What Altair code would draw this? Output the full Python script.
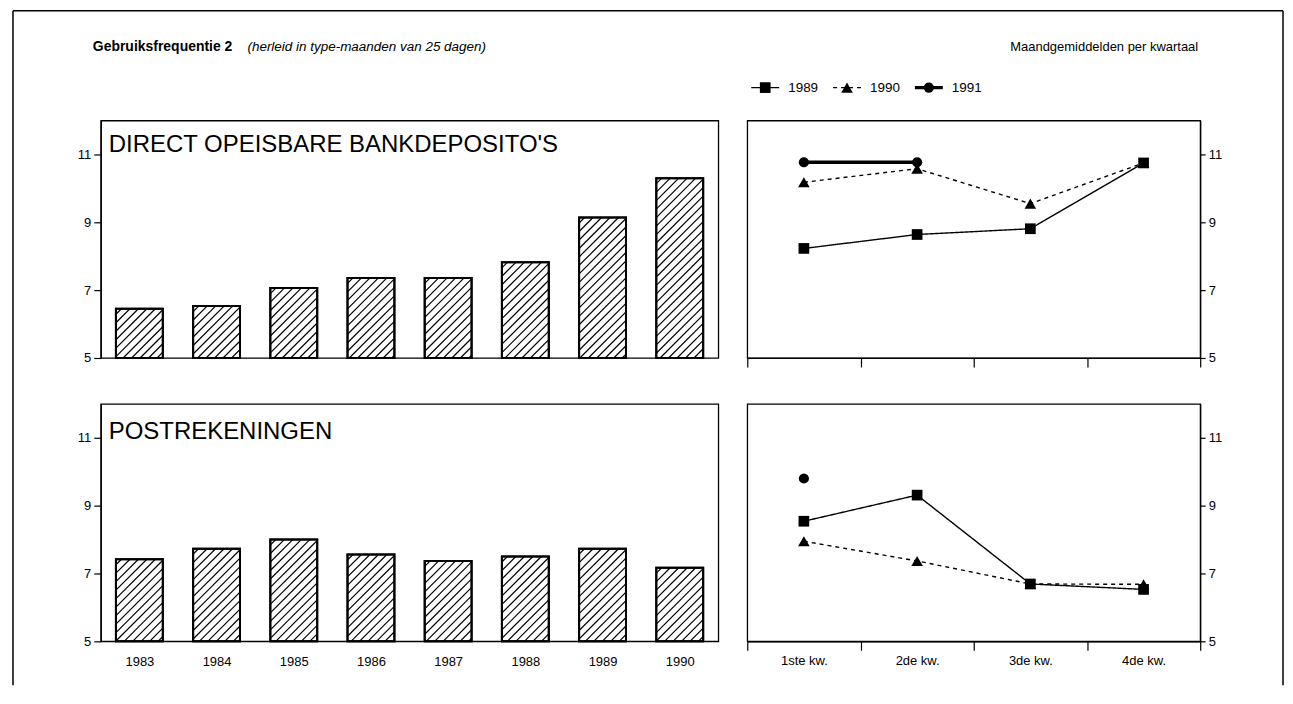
import altair as alt
import pandas as pd

FONT = "Liberation Sans"

# ---------------- data ----------------
years = [1983, 1984, 1985, 1986, 1987, 1988, 1989, 1990]
bank_deposits = [6.45, 6.53, 7.06, 7.36, 7.36, 7.82, 9.14, 10.3]
post_accounts = [7.42, 7.73, 8.0, 7.56, 7.37, 7.5, 7.73, 7.17]

quarters = ["1ste kw.", "2de kw.", "3de kw.", "4de kw."]
series_years = ["1989", "1990", "1991"]
bank_q_1989 = [8.23, 8.64, 8.81, 10.75]
bank_q_1990 = [10.18, 10.58, 9.55, 10.75]
bank_q_1991 = [10.77, 10.77, None, None]
post_q_1989 = [8.54, 9.31, 6.69, 6.53]
post_q_1990 = [7.95, 7.37, 6.69, 6.68]
post_q_1991 = [9.80, None, None, None]

title_main = "Gebruiksfrequentie 2"
title_sub = "(herleid in type-maanden van 25 dagen)"
title_right = "Maandgemiddelden per kwartaal"
label_top = "DIRECT OPEISBARE BANKDEPOSITO'S"
label_bottom = "POSTREKENINGEN"

# ---------------- layout constants ----------------
LW, RW, PH = 619, 454, 238
A = LW / 8.0          # px per year
B = PH / 7.0          # px per unit
BAR_PX = 47.0
HW = (BAR_PX / 2) / A
S = 8.5               # hatch spacing (px)

yscale = alt.Scale(domain=[5, 12], nice=False, zero=False)
xscale_bar = alt.Scale(domain=[1982.5, 1990.5], nice=False, zero=False)


def one_row():
    return alt.Data(values=[{"a": 1}])


def bar_panel(values, label, label_y, show_x):
    df = pd.DataFrame({"jaar": years, "waarde": values})
    if show_x:
        xaxis = alt.Axis(values=years, format="d", tickSize=0, labelPadding=14,
                         labelFontSize=13, domain=False, grid=False, title=None)
    else:
        xaxis = None
    yaxis = alt.Axis(values=[5, 7, 9, 11], tickSize=7, labelPadding=3, grid=False,
                     labelFontSize=13, title=None, domainWidth=1.3)
    base = alt.Chart(df).transform_calculate(
        x0=f"datum.jaar - {HW}"
    ).transform_calculate(
        x1=f"datum.jaar + {HW}"
    )
    bars = base.mark_rect(fill="white", stroke="black", strokeWidth=2).encode(
        x=alt.X("x0:Q", scale=xscale_bar, axis=xaxis, title=None),
        x2="x1:Q",
        y=alt.Y("waarde:Q", scale=yscale, axis=yaxis, title=None),
        y2=alt.datum(5),
    )
    hatch = (
        alt.Chart(df)
        .transform_calculate(hp=f"(datum.waarde - 5) * {B}")
        .transform_calculate(wp=f"{BAR_PX}")
        .transform_calculate(ks=f"sequence(1, ceil((datum.wp + datum.hp) / {S}) + 1)")
        .transform_flatten(["ks"], as_=["k"])
        .transform_calculate(c=f"-datum.hp + datum.k * {S} - 3")
        .transform_filter("datum.c < datum.wp && datum.c > -datum.hp")
        .transform_calculate(X0="max(0, datum.c)")
        .transform_calculate(X1="min(datum.wp, datum.hp + datum.c)")
        .transform_calculate(hx=f"datum.jaar - {HW} + datum.X0 / {A}")
        .transform_calculate(hy=f"5 + (datum.X0 - datum.c) / {B}")
        .transform_calculate(hx2=f"datum.jaar - {HW} + datum.X1 / {A}")
        .transform_calculate(hy2=f"5 + (datum.X1 - datum.c) / {B}")
        .mark_rule(color="black", strokeWidth=1.2)
        .encode(
            x=alt.X("hx:Q", scale=xscale_bar, axis=xaxis, title=None),
            x2="hx2:Q",
            y=alt.Y("hy:Q", scale=yscale, axis=yaxis, title=None),
            y2="hy2:Q",
        )
    )
    outline = base.mark_rect(fill=None, stroke="black", strokeWidth=2).encode(
        x=alt.X("x0:Q", scale=xscale_bar, axis=xaxis, title=None),
        x2="x1:Q",
        y=alt.Y("waarde:Q", scale=yscale, axis=yaxis, title=None),
        y2=alt.datum(5),
    )
    txt = alt.Chart(one_row()).mark_text(
        align="left", baseline="middle", fontSize=24, font=FONT, color="black"
    ).encode(x=alt.value(8), y=alt.value(label_y), text=alt.value(label))
    return bars, hatch, outline, txt


def quarter_df(s89, s90, s91):
    rows = []
    for yr, ser in zip(series_years, [s89, s90, s91]):
        for i, v in enumerate(ser):
            if v is not None:
                rows.append({"q": i + 0.5, "jaar": yr, "waarde": v})
    return pd.DataFrame(rows)


dash_enc = alt.StrokeDash("jaar:N", scale=alt.Scale(type="ordinal", domain=series_years,
                          range=[[1, 0], [4, 4], [1, 0]]), legend=None)
width_enc = alt.StrokeWidth("jaar:N", scale=alt.Scale(type="ordinal", domain=series_years,
                            range=[1.4, 1.4, 3.4]), legend=None)
shape_enc = alt.Shape("jaar:N", scale=alt.Scale(type="ordinal", domain=series_years,
                      range=["square", "triangle-up", "circle"]), legend=None)
size_enc = alt.Size("jaar:N", scale=alt.Scale(type="ordinal", domain=series_years,
                    range=[115, 135, 105]), legend=None)

label_expr = " : ".join(
    [f"datum.value == {i + 0.5} ? '{q}'" for i, q in enumerate(quarters)]
) + " : ''"


def line_panel(s89, s90, s91, show_x):
    df = quarter_df(s89, s90, s91)
    xaxis = alt.Axis(
        values=[i * 0.5 for i in range(9)],
        tickSize=9,
        labelPadding=4,
        labelFontSize=13,
        labelExpr=label_expr if show_x else "''",
        labels=show_x,
        grid=False,
        tickOpacity={"condition": {"test": "datum.value % 1 === 0", "value": 1}, "value": 0},
        domainWidth=1.3,
        title=None,
    )
    yaxis = alt.Axis(orient="right", values=[5, 7, 9, 11], tickSize=5, grid=False,
                     labelPadding=3, labelFontSize=13, title=None, domainWidth=1.3)
    x = alt.X("q:Q", scale=alt.Scale(domain=[0, 4], nice=False, zero=False),
              axis=xaxis, title=None)
    y = alt.Y("waarde:Q", scale=yscale, axis=yaxis, title=None)
    lines = alt.Chart(df).mark_line(color="black").encode(
        x=x, y=y, strokeDash=dash_enc, strokeWidth=width_enc, detail="jaar:N"
    )
    pts = alt.Chart(df).mark_point(filled=True, color="black", opacity=1).encode(
        x=x, y=y, shape=shape_enc, size=size_enc
    )
    return alt.layer(lines, pts)


# ---------------- panels ----------------
tl_bars, tl_hatch, tl_out, tl_txt = bar_panel(bank_deposits, label_top, 25, False)
bl_bars, bl_hatch, bl_out, bl_txt = bar_panel(post_accounts, label_bottom, 28, True)

# header texts & outer frame (annotations placed relative to top-left panel)
h1 = alt.Chart(one_row()).mark_text(align="left", baseline="middle", fontSize=14,
                                    fontWeight="bold", font=FONT, color="black").encode(
    x=alt.value(-8), y=alt.value(-74), text=alt.value(title_main))
h2 = alt.Chart(one_row()).mark_text(align="left", baseline="middle", fontSize=13.5,
                                    fontStyle="italic", font=FONT, color="black").encode(
    x=alt.value(147), y=alt.value(-74), text=alt.value(title_sub))
frame_l = alt.Chart(one_row()).mark_rule(color="black", strokeWidth=1.5).encode(
    x=alt.value(-88), y=alt.value(-110), y2=alt.value(566))
frame_t = alt.Chart(one_row()).mark_rule(color="black", strokeWidth=1.5).encode(
    y=alt.value(-110), x=alt.value(-88), x2=alt.value(1185))
frame_r = alt.Chart(one_row()).mark_rule(color="black", strokeWidth=1.5).encode(
    x=alt.value(1185), y=alt.value(-110), y2=alt.value(566))

TL = alt.layer(tl_bars, tl_hatch, tl_out, tl_txt, h1, h2, frame_l, frame_t, frame_r
               ).properties(width=LW, height=PH)
BL = alt.layer(bl_bars, bl_hatch, bl_out, bl_txt).properties(width=LW, height=PH)

tr_data = line_panel(bank_q_1989, bank_q_1990, bank_q_1991, False)
br_data = line_panel(post_q_1989, post_q_1990, post_q_1991, True)

# legend built from the series list
leg_df = pd.DataFrame({"jaar": series_years})
leg_x = alt.X("jaar:N", scale=alt.Scale(type="point", domain=series_years,
              range=[18, 182], padding=0), axis=None, title=None)
leg_line = alt.Chart(leg_df).mark_rule(color="black", xOffset=-14, x2Offset=14).encode(
    x=leg_x, x2="jaar:N", y=alt.value(-33), strokeDash=dash_enc, strokeWidth=width_enc)
leg_pts = alt.Chart(leg_df).mark_point(filled=True, color="black", opacity=1).encode(
    x=leg_x, y=alt.value(-33), shape=shape_enc, size=size_enc)
leg_txt = alt.Chart(leg_df).mark_text(align="left", baseline="middle", dx=23,
                                      fontSize=13.5, font=FONT, color="black").encode(
    x=leg_x, y=alt.value(-33), text="jaar:N")
hr = alt.Chart(one_row()).mark_text(align="right", baseline="middle", fontSize=13,
                                    font=FONT, color="black").encode(
    x=alt.value(452), y=alt.value(-74), text=alt.value(title_right))
legend = alt.layer(leg_line, leg_pts, leg_txt, hr)

TR = alt.layer(tr_data, legend).resolve_scale(x="independent").properties(width=RW, height=PH)
BR = br_data.properties(width=RW, height=PH)

chart = alt.concat(TL, TR, BL, BR, columns=2, spacing={"row": 46, "column": 29}
                   ).properties(
    bounds="flush", align="each", background="white",
    padding={"left": 3, "top": 0, "right": 0, "bottom": 0},
).configure_view(stroke="black", strokeWidth=1.3
).configure_axis(domainColor="black", tickColor="black", labelColor="black",
                 labelFont=FONT, grid=False, tickWidth=1.2)

chart.save("out.html", embed_options={"renderer": "svg", "actions": False})
